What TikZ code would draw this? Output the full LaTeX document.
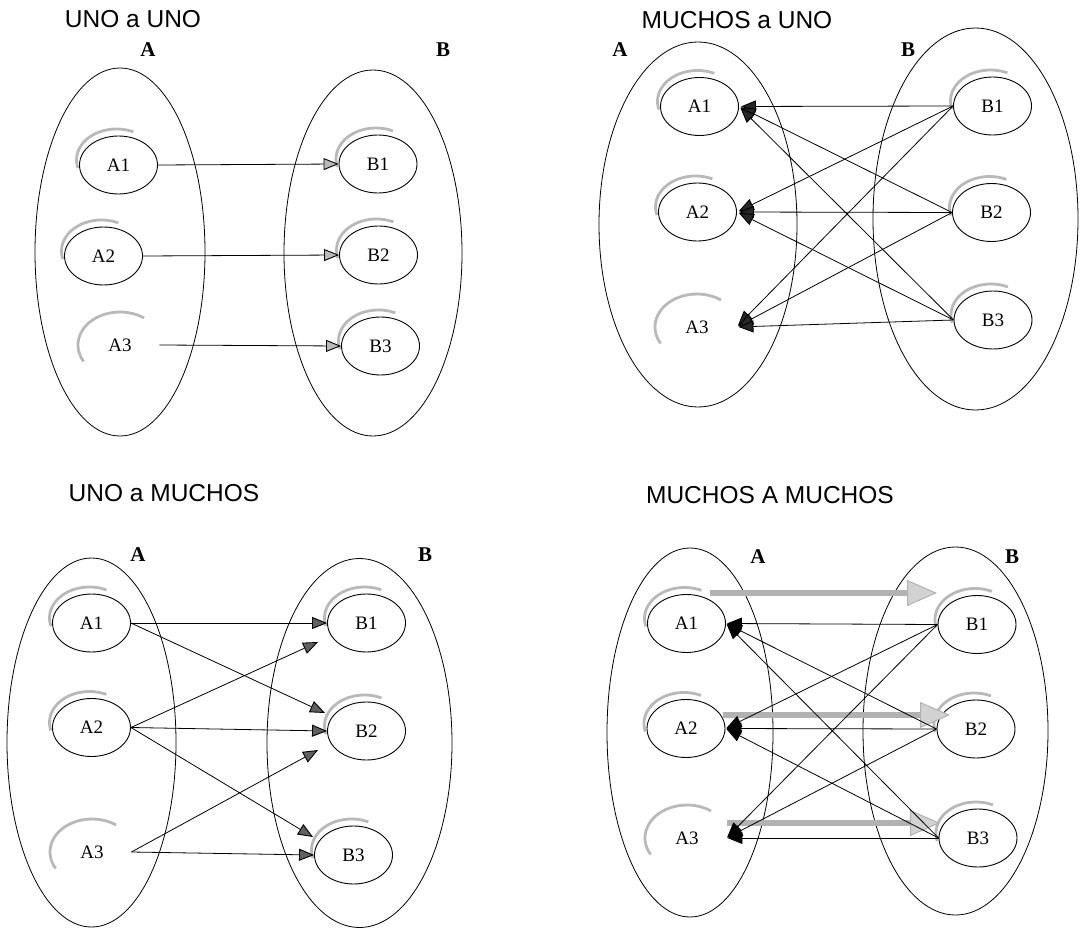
\documentclass[tikz,border=0pt]{standalone}
\usepackage{fontspec}
\setmainfont{Liberation Serif}
\newfontfamily\ttlfont{Liberation Sans}
\usetikzlibrary{shapes.geometric,arrows.meta,calc}

\tikzset{
 ttl/.style={font=\ttlfont\fontsize{24.5}{28}\selectfont, inner sep=0pt},
 setlbl/.style={font=\bfseries\fontsize{21}{24}\selectfont, inner sep=0pt},
 big/.style={ellipse, draw, line width=0.8pt, inner sep=0pt},
 sm/.style={ellipse, draw, line width=0.9pt, minimum width=78pt, minimum height=58pt, inner sep=0pt, font=\fontsize{19}{21}\selectfont},
 ghost/.style={sm, draw=none},
 shadowline/.style={draw=gray!55, line width=2.8pt},
 arr/.style={line width=0.8pt, -{Triangle[length=15pt,width=12pt,fill=gray!55,line width=0.9pt]}},
 arrm/.style={line width=0.8pt, -{Triangle[length=15pt,width=12pt,fill=gray!75!black,line width=0.9pt]}},
 arrd/.style={line width=0.8pt, shorten >=2pt, -{Triangle[length=15pt,width=12pt,fill=gray!30!black,line width=0.9pt]}},
 arrk/.style={line width=0.8pt, shorten >=1pt, -{Triangle[length=15pt,width=12pt,fill=black,line width=0.9pt]}},
 fat/.style={draw=gray!60, line width=6pt, -{Triangle[length=30pt,width=26pt,fill=gray!35,color=gray!60,line width=1pt]}},
}
\newcommand\mysharc[1]{\draw[shadowline] ($(#1.center)+(-2,5)$) ++(195:40 and 31) arc[start angle=195,end angle=65,x radius=40,y radius=31];}
\newcommand\mysharcbig[1]{\draw[shadowline] (#1.center) ++(210:42 and 33) arc[start angle=210,end angle=55,x radius=42,y radius=33];}

\begin{document}
\begin{tikzpicture}[x=1pt,y=1pt]
\useasboundingbox (0,0) rectangle (1082,-928);

% ---------------- UNO a UNO ----------------
\node[ttl] (t1) at (133,-19) {UNO a UNO};
\node[setlbl] (la1) at (148,-50) {A};
\node[setlbl] (lb1) at (443,-50) {B};
\node[big, minimum width=170pt, minimum height=368pt] (SA1) at (120,-252) {};
\node[big, minimum width=178pt, minimum height=366pt] (SB1) at (373,-253) {};
\node[sm] (p1a1) at (118.5,-165) {A1};
\node[sm] (p1a2) at (103.5,-256) {A2};
\node[ghost] (p1a3) at (120,-345) {A3};
\node[sm] (p1b1) at (378,-164) {B1};
\node[sm] (p1b2) at (378.5,-255) {B2};
\node[sm] (p1b3) at (380.5,-346) {B3};
\mysharc{p1a1}\mysharc{p1a2}\mysharcbig{p1a3}
\mysharc{p1b1}\mysharc{p1b2}\mysharc{p1b3}
\draw[arr] (p1a1.east) -- (p1b1.west);
\draw[arr] (p1a2.east) -- (p1b2.west);
\draw[arr] (p1a3.east) -- (p1b3.west);

% ---------------- MUCHOS a UNO ----------------
\node[ttl] (t2) at (737,-20) {MUCHOS a UNO};
\node[setlbl] (la2) at (620,-50) {A};
\node[setlbl] (lb2) at (908,-50) {B};
\node[big, minimum width=198pt, minimum height=365pt] (SA2) at (698,-224.5) {};
\node[big, minimum width=205pt, minimum height=382pt] (SB2) at (975.5,-219) {};
\node[sm] (p2a1) at (699.5,-106.5) {A1};
\node[sm] (p2a2) at (697.5,-212) {A2};
\node[ghost] (p2a3) at (697,-327) {A3};
\node[sm] (p2b1) at (992.5,-106) {B1};
\node[sm] (p2b2) at (991.5,-212.5) {B2};
\node[sm] (p2b3) at (993,-320) {B3};
\mysharc{p2a1}\mysharc{p2a2}\mysharcbig{p2a3}
\mysharc{p2b1}\mysharc{p2b2}\mysharc{p2b3}
\foreach \b in {1,2,3}{\foreach \a in {1,2,3}{
  \draw[arrd] (p2b\b.west) -- (p2a\a.east);}}

% ---------------- UNO a MUCHOS ----------------
\node[ttl] (t3) at (164,-493) {UNO a MUCHOS};
\node[setlbl] (la3) at (138,-555) {A};
\node[setlbl] (lb3) at (425,-555) {B};
\node[big, minimum width=169pt, minimum height=369pt] (SA3) at (91.5,-742.5) {};
\node[big, minimum width=185pt, minimum height=369pt] (SB3) at (359.5,-743) {};
\node[sm] (p3a1) at (91.5,-623) {A1};
\node[sm] (p3a2) at (91.5,-727.5) {A2};
\node[ghost] (p3a3) at (92,-852) {A3};
\node[sm] (p3b1) at (366.5,-623) {B1};
\node[sm] (p3b2) at (366.5,-731) {B2};
\node[sm] (p3b3) at (353.5,-855) {B3};
\mysharc{p3a1}\mysharc{p3a2}\mysharcbig{p3a3}
\mysharc{p3b1}\mysharc{p3b2}\mysharc{p3b3}
\coordinate (q12) at (325,-713);
\coordinate (q21) at (318,-642);
\coordinate (q23) at (313,-837);
\coordinate (q32) at (318,-750);
\draw[arrm] (p3a1.east) -- (p3b1.west);
\draw[arrm] (p3a1.east) -- (q12);
\draw[arrm] (p3a2.east) -- (q21);
\draw[arrm] (p3a2.east) -- (p3b2.west);
\draw[arrm] (p3a2.east) -- (q23);
\draw[arrm] (p3a3.east) -- (q32);
\draw[arrm] (p3a3.east) -- (p3b3.west);

% ---------------- MUCHOS A MUCHOS ----------------
\node[ttl] (t4) at (770,-495) {MUCHOS A MUCHOS};
\node[setlbl] (la4) at (758,-557) {A};
\node[setlbl] (lb4) at (1012,-557) {B};
\node[big, minimum width=166pt, minimum height=369pt] (SA4) at (690,-732.5) {};
\node[big, minimum width=185pt, minimum height=368pt] (SB4) at (955.5,-731) {};
\node[sm] (p4a1) at (686.5,-623.5) {A1};
\node[sm] (p4a2) at (686,-728.5) {A2};
\node[ghost] (p4a3) at (687,-838) {A3};
\node[sm] (p4b1) at (977,-624.5) {B1};
\node[sm] (p4b2) at (976,-729) {B2};
\node[sm] (p4b3) at (978,-838) {B3};
\mysharc{p4a1}\mysharc{p4a2}\mysharcbig{p4a3}
\mysharc{p4b1}\mysharc{p4b2}\mysharc{p4b3}
\coordinate (g1s) at (710,-593);
\coordinate (g1e) at (937,-593);
\coordinate (g2s) at (723,-715);
\coordinate (g2e) at (950,-715);
\coordinate (g3s) at (727,-823);
\coordinate (g3e) at (940,-823);
\draw[fat] (g1s) -- (g1e);
\draw[fat] (g2s) -- (g2e);
\draw[fat] (g3s) -- (g3e);
\foreach \b in {1,2,3}{\foreach \a in {1,2,3}{
  \draw[arrk] (p4b\b.west) -- (p4a\a.east);}}
\end{tikzpicture}
\end{document}
